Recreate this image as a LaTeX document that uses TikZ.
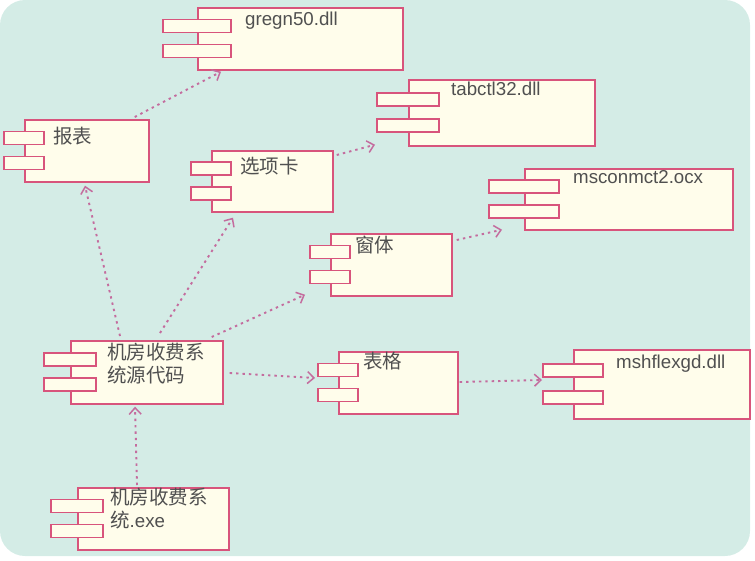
\documentclass[tikz,border=0pt]{standalone}
\usepackage{fontspec}
\setmainfont{Liberation Sans}
\newfontfamily\cjk{Noto Sans CJK SC}
\usepackage{tikz}
\usetikzlibrary{arrows.meta, calc}

\definecolor{bgteal}{RGB}{212,236,230}
\definecolor{compfill}{RGB}{255,253,235}
\definecolor{compline}{RGB}{216,84,124}
\definecolor{deparrow}{RGB}{196,108,158}
\definecolor{labeltext}{RGB}{80,80,80}

\newcommand{\zh}[1]{{\cjk\fontsize{19.5}{23}\selectfont #1}}

\begin{document}
\begin{tikzpicture}[
    x=1pt, y=-1pt,
    comp/.style={rectangle, draw=compline, fill=compfill, line width=1.7pt, anchor=north west, inner sep=0pt},
    port/.style={draw=compline, fill=compfill, line width=1.7pt},
    lbl/.style={anchor=north west, inner sep=0pt, text=labeltext, align=left, font=\fontsize{18.7}{23}\selectfont},
    dep/.style={draw=deparrow, line width=1.9pt, dash pattern=on 2.4pt off 4pt, -{Straight Barb[length=6.5pt, width=12pt, line width=1.5pt]}}
]
\useasboundingbox (0,0) rectangle (755,560);

% Background
\fill [bgteal, rounded corners=25pt] (0,0) rectangle (750,556);

% Libraries
\node [comp, minimum width=205pt, minimum height=62pt, label={[lbl, xshift=48pt, yshift=-5pt]north west:gregn50.dll}] (gregn) at (197,7) {};
\node [comp, minimum width=186pt, minimum height=66pt, label={[lbl, xshift=43pt, yshift=-3pt]north west:tabctl32.dll}] (tab) at (408,79) {};
\node [comp, minimum width=208pt, minimum height=61pt, label={[lbl, xshift=49pt, yshift=-2pt]north west:msconmct2.ocx}] (mscom) at (524,168) {};
\node [comp, minimum width=176pt, minimum height=69pt, label={[lbl, xshift=43pt, yshift=-6pt]north west:mshflexgd.dll}] (msh) at (573,349) {};

% Modules
\node [comp, minimum width=124pt, minimum height=62pt, label={[lbl, xshift=29pt, yshift=-8pt]north west:\zh{报表}}] (bb) at (24,119) {};
\node [comp, minimum width=121pt, minimum height=61pt, label={[lbl, xshift=29pt, yshift=-7pt]north west:\zh{选项卡}}] (xxk) at (211,150) {};
\node [comp, minimum width=121pt, minimum height=62pt, label={[lbl, xshift=25pt, yshift=-3pt]north west:\zh{窗体}}] (ct) at (330,233) {};
\node [comp, minimum width=119pt, minimum height=62pt, label={[lbl, xshift=25pt, yshift=-1pt]north west:\zh{表格}}] (bg) at (338,351) {};

% Source and executable
\node [comp, minimum width=152pt, minimum height=63pt, label={[lbl, xshift=37pt, yshift=-3pt]north west:\zh{机房收费系}\\\zh{统源代码}}] (src) at (70,340) {};
\node [comp, minimum width=151pt, minimum height=62pt, label={[lbl, xshift=33pt, yshift=-1pt]north west:\zh{机房收费系}\\\zh{统}.exe}] (exe) at (77,487) {};

% Component ports
\foreach \n/\w in {gregn/34, tab/31, mscom/35, msh/30, bb/20, xxk/20, ct/20, bg/20, src/26, exe/26} {
  \foreach \p in {0.3, 0.69}
    \draw [port] ($(\n.north west)!\p!(\n.south west)$) ++(-\w,-6.5) rectangle ++(2*\w,13);
}

% Dependencies
\draw [dep] ($(bb.north east)+(-15,-2)$) -- ($(gregn.south west)+(24,1)$);
\draw [dep] ($(xxk.north east)+(3,5)$) -- ($(tab.south west)+(-33,-2)$);
\draw [dep] ($(ct.north east)+(4,7)$) -- ($(mscom.south west)+(-22,-1)$);
\draw [dep] ($(src.north west)+(50,-4)$) -- ($(bb.south west)+(61,3)$);
\draw [dep] ($(src.north west)+(90,-7)$) -- ($(xxk.south west)+(22,5)$);
\draw [dep] ($(src.north east)+(-12,-3)$) -- ($(ct.south west)+(-25,-2)$);
\draw [dep] ($(src.north east)+(6,33)$) -- ($(bg.north west)+(-23,27)$);
\draw [dep] ($(bg.north east)+(1,31)$) -- ($(msh.north west)+(-31,31)$);
\draw [dep] ($(exe.north west)+(60,-2)$) -- ($(src.south west)+(65,2)$);

\end{tikzpicture}
\end{document}
